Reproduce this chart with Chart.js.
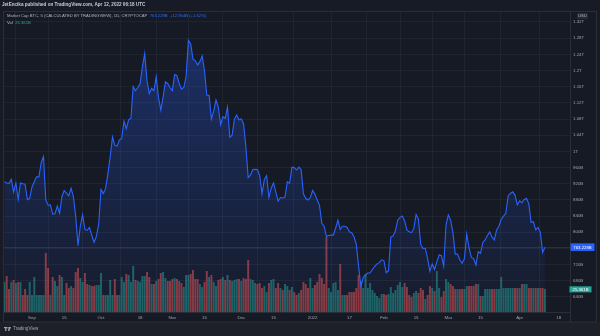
<!DOCTYPE html>
<html>
<head>
<meta charset="utf-8">
<script src="https://cdn.jsdelivr.net/npm/chart.js@4.4.1/dist/chart.umd.min.js"></script>
<style>
  html, body { margin: 0; padding: 0; background: #181b25; }
  #wrap { position: relative; width: 600px; height: 336px; overflow: hidden; background: #181b25;
          font-family: "Liberation Sans", Arial, sans-serif; }
  #c { position: absolute; left: 0; top: 0; }
  .t { position: absolute; white-space: nowrap; line-height: 1; }
  .hdr { left: 2px; top: 3.4px; font-size: 4.6px; font-weight: bold; color: #c8cbd3; }
  .leg1 { left: 7px; top: 13.6px; font-size: 4.2px; color: #b2b5be; }
  .leg2 { left: 7px; top: 20.6px; font-size: 4.2px; color: #b2b5be; }
  .blue { color: #2f6bff; }
  .teal { color: #26a69a; }
  .foot { left: 4px; top: 326.5px; font-size: 4.6px; color: #a3a6af; display: flex; align-items: center; gap: 2px; }
</style>
</head>
<body>
<div id="wrap">
  <canvas id="c" width="600" height="336"></canvas>
  <div class="t hdr">JetEncika published on TradingView.com, Apr 12, 2022 06:18 UTC</div>
  <div class="t leg1">Market Cap BTC, 5 (CALCULATED BY TRADINGVIEW), 1D, CRYPTOCAP&nbsp; <span class="blue">763.228B</span>&nbsp; <span class="blue">+12.954B (+1.62%)</span></div>
  <div class="t leg2">Vol&nbsp; <span class="teal">25.361B</span></div>
  <div class="t foot">
    <svg width="7" height="4" viewBox="0 0 14 8"><rect x="0" y="0" width="6" height="2.4" fill="#a3a6af"/><rect x="2.4" y="0" width="2.4" height="8" fill="#a3a6af"/><circle cx="8" cy="1.6" r="1.5" fill="#a3a6af"/><polygon points="10,0 14,0 10.5,8 8,8" fill="#a3a6af"/></svg>
    <span>TradingView</span>
  </div>
</div>
<script>
// Daily series starting 2021-08-20 (index 0) through 2022-04-12 (index 235)
const startDate = '2021-08-20';

// Bitcoin market cap, daily close, billions USD
const marketCap = [
  925, 922, 921, 931, 900, 922, 881, 922, 920, 919,
  881, 884, 912, 925, 937, 937, 972, 987, 880, 867,
  868, 845, 846, 865, 847, 888, 903, 897, 890, 909,
  888, 840, 767, 815, 843, 807, 805, 812, 792, 775,
  790, 820, 906, 896, 908, 945, 987, 1036, 1015, 1013,
  1028, 1032, 1075, 1056, 1078, 1082, 1160, 1150, 1158, 1168,
  1209, 1242, 1175, 1143, 1156, 1150, 1185, 1133, 1102, 1135,
  1172, 1168, 1158, 1150, 1190, 1188, 1168, 1154, 1158, 1185,
  1275, 1266, 1228, 1224, 1214, 1222, 1236, 1200, 1139, 1139,
  1080, 1100, 1127, 1110, 1066, 1086, 1082, 1110, 1035, 1040,
  1080, 1090, 1078, 1080, 1068, 1010, 935, 942, 955, 956,
  955, 940, 895, 930, 940, 886, 909, 922, 900, 877,
  886, 885, 887, 925, 921, 961, 960, 954, 961, 955,
  895, 884, 880, 886, 903, 894, 880, 866, 822, 815,
  790, 792, 793, 793, 810, 830, 807, 815, 815, 812,
  801, 799, 789, 770, 715, 666, 688, 695, 699, 700,
  708, 716, 722, 725, 732, 730, 700, 705, 788, 791,
  803, 830, 837, 840, 828, 806, 801, 799, 809, 844,
  832, 770, 760, 760, 735, 704, 722, 708, 727, 744,
  742, 716, 818, 843, 830, 800, 746, 746, 732, 723,
  735, 796, 762, 738, 735, 719, 752, 748, 775, 781,
  792, 801, 788, 781, 806, 815, 832, 840, 847, 890,
  896, 900, 892, 868, 878, 873, 881, 884, 870, 824,
  826, 806, 812, 800, 750.274, 763.2288
];

// Daily volume, billions USD
const volume = [
  33, 39.6, 25.3, 33, 35.2, 31.9, 33, 33, 18.7, 25.3,
  18.7, 33, 18.7, 38.5, 18.7, 18.7, 18.7, 18.7, 64.9, 48.4,
  18.7, 38.5, 34.1, 28.6, 40.7, 38.5, 18.7, 31.9, 26.4, 28.6,
  26.4, 44, 48.4, 37.4, 33, 42.9, 30.8, 29.7, 28.6, 28.6,
  29.7, 29.7, 42.9, 18.7, 18.7, 18.7, 35.2, 18.7, 36.3, 18.7,
  18.7, 38.5, 33, 41.8, 40.7, 33, 50.6, 35.2, 34.1, 33,
  39.6, 39.6, 44, 38.5, 30.8, 30.8, 34.1, 36.3, 42.9, 44,
  37.4, 34.1, 34.1, 36.3, 37.4, 36.3, 34.1, 31.9, 27.5, 40.7,
  40.7, 41.8, 46.2, 36.3, 36.3, 30.8, 27.5, 33, 45.1, 38.5,
  40.7, 33, 28.6, 35.2, 36.3, 38.5, 35.2, 40.7, 35.2, 34.1,
  35.2, 36.3, 36.3, 34.1, 37.4, 36.3, 57.2, 36.3, 35.2, 31.9,
  30.8, 31.9, 26.4, 28.6, 22, 31.9, 35.2, 36.3, 26.4, 31.9,
  26.4, 24.2, 30.8, 28.6, 24.2, 27.5, 22, 18.7, 20.9, 24.2,
  33, 30.8, 26.4, 37.4, 26.4, 29.7, 33, 41.8, 37.4, 30.8,
  82.5, 26.4, 22, 31.9, 33, 24.2, 52.8, 18.7, 18.7, 18.7,
  22, 22, 22, 26.4, 40.7, 34.1, 26.4, 41.8, 26.4, 31.9,
  24.2, 20.9, 17.6, 15.4, 19.8, 19.8, 18.7, 19.8, 27.5, 20.9,
  24.2, 29.7, 33, 27.5, 31.9, 27.5, 18.7, 16.5, 20.9, 23.1,
  20.9, 26.4, 24.2, 14.3, 18.7, 28.6, 26.4, 23.1, 45.1, 26.4,
  16.5, 23.1, 36.3, 33, 30.8, 28.6, 25.3, 25.3, 25.3, 25.3,
  25.3, 28.6, 28.6, 28.6, 28.6, 30.8, 30.8, 17.6, 17.6, 25.3,
  25.3, 25.3, 25.3, 25.3, 25.3, 25.3, 38.5, 26.4, 26.4, 26.4,
  26.4, 26.4, 26.4, 26.4, 26.4, 30.8, 30.8, 30.8, 26.4, 26.4,
  26.4, 26.4, 26.4, 26.4, 26.4, 25.361
];

// Price-axis ticks (billions USD)
const priceTicks = [640, 680, 720, 760, 800, 840, 880, 920, 960, 1000,
                    1040, 1080, 1120, 1160, 1200, 1240, 1280, 1320];

// Time-axis ticks: day index from the start date, and their labels
const timeTickDays   = [12, 26, 42, 59, 73, 87, 103, 117, 134, 150, 165, 179, 193, 207, 224, 241];
const timeTickLabels = ['Sep', '15', 'Oct', '18', 'Nov', '15', 'Dec', '15', '2022', '17', 'Feb', '15', 'Mar', '15', 'Apr', '18'];

const FONT = '"Liberation Sans", Arial, sans-serif';
const AXIS_TEXT = '#9fa2ab';
const GRID = 'rgba(42,46,57,0.55)';
const UP = 'rgba(38,166,154,0.52)';
const DOWN = 'rgba(239,83,80,0.55)';

function fmtCap(v) {
  if (v >= 1000) return String(+(v / 1000).toFixed(2)) + 'T';
  return String(Math.round(v)) + 'B';
}

const linePoints = marketCap.map((v, i) => ({ x: i, y: v }));
const volPoints = volume.map((v, i) => ({ x: i, y: v }));
const volColors = marketCap.map((v, i) => (i === 0 || v >= marketCap[i - 1]) ? UP : DOWN);
const lastCap = marketCap[marketCap.length - 1];
const lastVol = volume[volume.length - 1];

// Pane background, frame and footer band
const framePlugin = {
  id: 'frame',
  beforeDraw(chart) {
    const { ctx } = chart;
    ctx.save();
    ctx.fillStyle = '#181b25';
    ctx.fillRect(0, 0, 600, 336);
    ctx.fillStyle = '#161a25';
    ctx.fillRect(3, 11, 594, 311);
    ctx.fillStyle = '#1e2029';
    ctx.fillRect(0, 322, 600, 14);
    ctx.restore();
  },
  beforeDatasetsDraw(chart) {
    // last-value price line
    const { ctx, chartArea } = chart;
    const y = Math.round(chart.scales.y.getPixelForValue(lastCap)) + 0.5;
    ctx.save();
    ctx.strokeStyle = 'rgba(41,98,255,0.3)';
    ctx.lineWidth = 1;
    ctx.beginPath();
    ctx.moveTo(chartArea.left, y);
    ctx.lineTo(chartArea.right, y);
    ctx.stroke();
    ctx.restore();
  },
  afterDraw(chart) {
    const { ctx, chartArea } = chart;
    ctx.save();
    // outer frame
    ctx.strokeStyle = '#2a2e39';
    ctx.lineWidth = 1;
    ctx.strokeRect(3.5, 11.5, 593, 310.5);
    ctx.beginPath();
    ctx.moveTo(chartArea.right + 0.5, 11);
    ctx.lineTo(chartArea.right + 0.5, 322);
    ctx.stroke();

    ctx.textBaseline = 'middle';
    ctx.textAlign = 'center';
    ctx.font = '4.3px ' + FONT;

    // currency tag
    ctx.fillStyle = '#262a35';
    ctx.fillRect(577, 13, 11, 6);
    ctx.fillStyle = '#b2b5be';
    ctx.fillText('USD', 582.5, 16.2);

    // last price tag
    const py = chart.scales.y.getPixelForValue(lastCap);
    ctx.fillStyle = '#2962ff';
    ctx.fillRect(570.5, py - 3.8, 24, 7.6);
    ctx.fillStyle = '#ffffff';
    ctx.fillText('763.228B', 582.5, py + 0.2);

    // last volume tag
    const vy = chart.scales.yv.getPixelForValue(lastVol);
    ctx.fillStyle = '#26a69a';
    ctx.fillRect(569.5, vy - 2.6, 22, 6);
    ctx.fillStyle = '#ffffff';
    ctx.fillText('25.361B', 580.5, vy + 0.4);
    ctx.restore();
  }
};

const ctx = document.getElementById('c');
new Chart(ctx, {
  type: 'line',
  data: {
    datasets: [
      {
        type: 'line',
        data: linePoints,
        yAxisID: 'y',
        borderColor: '#2962ff',
        borderWidth: 1.1,
        pointRadius: 0,
        tension: 0,
        fill: 'start',
        backgroundColor: (c) => {
          const area = c.chart.chartArea;
          if (!area) return 'rgba(41,98,255,0.1)';
          const g = c.chart.ctx.createLinearGradient(0, area.top + 20, 0, area.bottom);
          g.addColorStop(0, 'rgba(41,98,255,0.30)');
          g.addColorStop(1, 'rgba(41,98,255,0.03)');
          return g;
        },
        order: 0
      },
      {
        type: 'bar',
        data: volPoints,
        yAxisID: 'yv',
        backgroundColor: volColors,
        borderWidth: 0,
        barPercentage: 1,
        categoryPercentage: 0.85,
        order: 1
      }
    ]
  },
  options: {
    responsive: false,
    animation: false,
    devicePixelRatio: 1,
    layout: { padding: { top: 11, left: 4, right: 2, bottom: 14 } },
    plugins: { legend: { display: false }, tooltip: { enabled: false } },
    scales: {
      x: {
        type: 'linear',
        min: -0.17,
        max: 245.9,
        offset: false,
        grid: { color: GRID, drawTicks: false },
        border: { display: true, color: '#2a2e39' },
        afterBuildTicks: (s) => { s.ticks = timeTickDays.map(v => ({ value: v })); },
        afterFit: (s) => { s.height = 10; },
        ticks: {
          autoSkip: false,
          maxRotation: 0,
          padding: 3,
          color: AXIS_TEXT,
          font: { size: 4.4, family: FONT },
          callback: (v) => timeTickLabels[timeTickDays.indexOf(v)]
        }
      },
      y: {
        position: 'right',
        min: 602.9,
        max: 1347.2,
        grid: { color: GRID, drawTicks: false },
        border: { display: false },
        afterBuildTicks: (s) => { s.ticks = priceTicks.map(v => ({ value: v })); },
        afterFit: (s) => { s.width = 28; },
        ticks: {
          padding: 3,
          color: AXIS_TEXT,
          font: { size: 4.4, family: FONT },
          callback: (v) => fmtCap(v)
        }
      },
      yv: {
        display: false,
        position: 'left',
        min: 0,
        max: 331
      }
    }
  },
  plugins: [framePlugin]
});
</script>
</body>
</html>
